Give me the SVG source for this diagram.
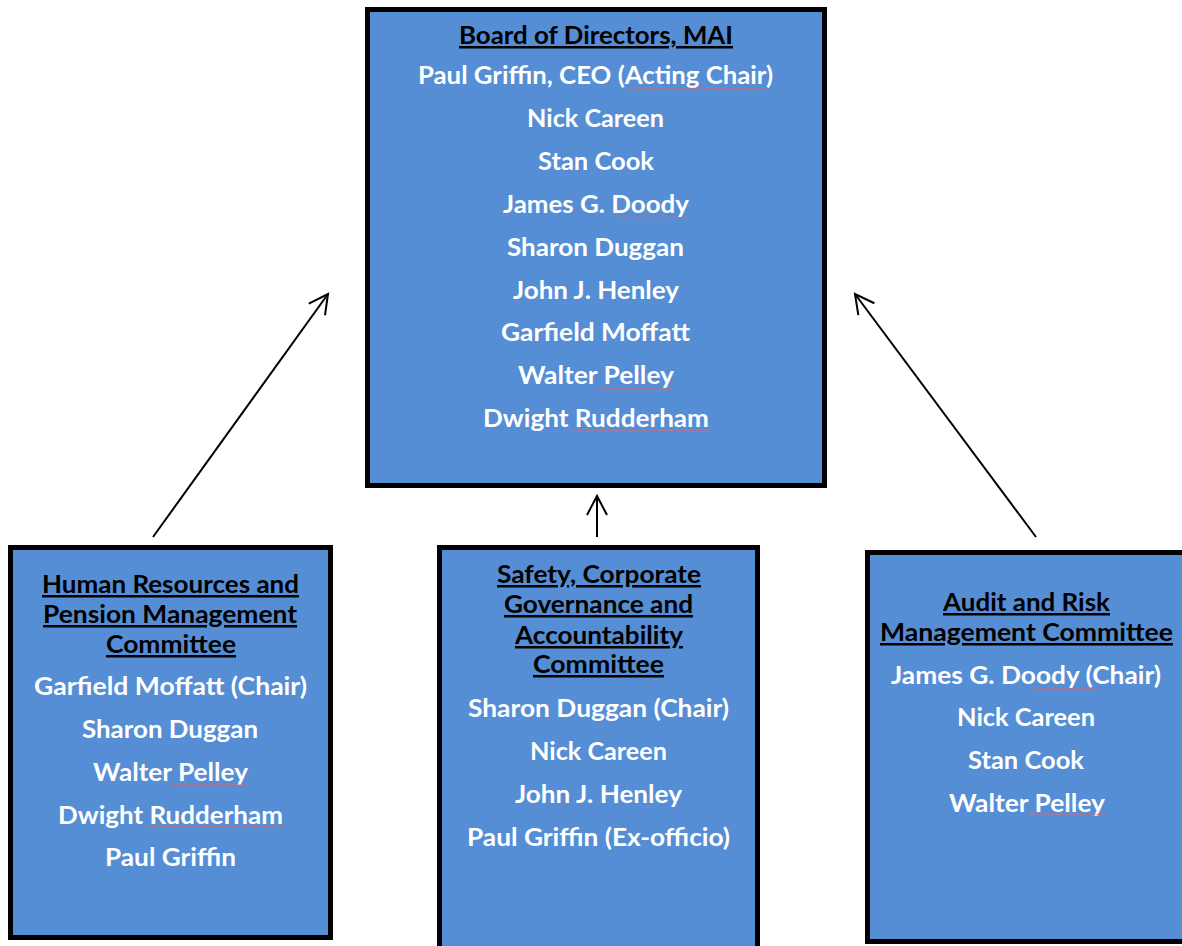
<svg xmlns="http://www.w3.org/2000/svg" width="1182" height="946" viewBox="0 0 1182 946">
<style>
.box{fill:#558ED5;stroke:#000;stroke-width:5}
.t{font-family:Lato,"Open Sans","Liberation Sans",sans-serif;font-weight:bold;font-size:25px;fill:#000;text-decoration:underline}
.n{font-family:Lato,"Open Sans","Liberation Sans",sans-serif;font-weight:bold;font-size:25px;fill:#fff}
.c{stroke:#000;stroke-width:2;fill:none}
.sq{fill:url(#sq)}
</style>
<defs>
<marker id="ah" markerUnits="userSpaceOnUse" markerWidth="26" markerHeight="26" viewBox="0 0 26 26" refX="23" refY="13" orient="auto">
<path d="M4,3 L23,13 L4,23" fill="none" stroke="#000" stroke-width="2"/>
</marker>
<pattern id="sq" width="4" height="3" patternUnits="userSpaceOnUse">
<path d="M0,2.2 L2,0.8 L4,2.2" stroke="#e06666" fill="none" stroke-width="0.8"/>
</pattern>
</defs>

<g id="board">
<rect class="box" x="367.5" y="9.5" width="457" height="476"/>
<text class="t" x="459" y="44" textLength="274" lengthAdjust="spacingAndGlyphs">Board of Directors, MAI</text>
<text class="n" x="418" y="84" textLength="355" lengthAdjust="spacingAndGlyphs">Paul Griffin, CEO (Acting Chair)</text>
<text class="n" x="527" y="127" textLength="137" lengthAdjust="spacingAndGlyphs">Nick Careen</text>
<text class="n" x="538" y="170" textLength="116" lengthAdjust="spacingAndGlyphs">Stan Cook</text>
<text class="n" x="503" y="213" textLength="186" lengthAdjust="spacingAndGlyphs">James G. Doody</text>
<text class="n" x="507" y="256" textLength="177" lengthAdjust="spacingAndGlyphs">Sharon Duggan</text>
<text class="n" x="513" y="299" textLength="166" lengthAdjust="spacingAndGlyphs">John J. Henley</text>
<text class="n" x="501" y="341" textLength="189" lengthAdjust="spacingAndGlyphs">Garfield Moffatt</text>
<text class="n" x="518" y="384" textLength="156" lengthAdjust="spacingAndGlyphs">Walter Pelley</text>
<text class="n" x="483" y="427" textLength="226" lengthAdjust="spacingAndGlyphs">Dwight Rudderham</text>
<rect class="sq" x="627" y="87" width="138" height="3"/>
<rect class="sq" x="617" y="216" width="72" height="3"/>
<rect class="sq" x="598" y="387" width="76" height="3"/>
<rect class="sq" x="573" y="429" width="136" height="3"/>
</g>

<g id="hr">
<rect class="box" x="10.5" y="547.5" width="320" height="390"/>
<text class="t" x="42" y="593" textLength="257" lengthAdjust="spacingAndGlyphs">Human Resources and</text>
<text class="t" x="43" y="623" textLength="254" lengthAdjust="spacingAndGlyphs">Pension Management</text>
<text class="t" x="106" y="653" textLength="130" lengthAdjust="spacingAndGlyphs">Committee</text>
<text class="n" x="34" y="695" textLength="273" lengthAdjust="spacingAndGlyphs">Garfield Moffatt (Chair)</text>
<text class="n" x="82" y="738" textLength="176" lengthAdjust="spacingAndGlyphs">Sharon Duggan</text>
<text class="n" x="93" y="781" textLength="155" lengthAdjust="spacingAndGlyphs">Walter Pelley</text>
<text class="n" x="58" y="824" textLength="225" lengthAdjust="spacingAndGlyphs">Dwight Rudderham</text>
<text class="n" x="105" y="866" textLength="131" lengthAdjust="spacingAndGlyphs">Paul Griffin</text>
<rect class="sq" x="172" y="783" width="76" height="3"/>
<rect class="sq" x="148" y="825" width="135" height="3"/>
</g>

<g id="safety">
<rect class="box" x="439.5" y="547.5" width="318" height="410"/>
<text class="t" x="497" y="583" textLength="204" lengthAdjust="spacingAndGlyphs">Safety, Corporate</text>
<text class="t" x="504" y="613" textLength="189" lengthAdjust="spacingAndGlyphs">Governance and</text>
<text class="t" x="515" y="644" textLength="168" lengthAdjust="spacingAndGlyphs">Accountability</text>
<text class="t" x="533" y="673" textLength="131" lengthAdjust="spacingAndGlyphs">Committee</text>
<text class="n" x="468" y="717" textLength="261" lengthAdjust="spacingAndGlyphs">Sharon Duggan (Chair)</text>
<text class="n" x="530" y="760" textLength="137" lengthAdjust="spacingAndGlyphs">Nick Careen</text>
<text class="n" x="515" y="803" textLength="167" lengthAdjust="spacingAndGlyphs">John J. Henley</text>
<text class="n" x="467" y="846" textLength="263" lengthAdjust="spacingAndGlyphs">Paul Griffin (Ex-officio)</text>
</g>

<g id="audit">
<rect class="box" x="867.5" y="552.5" width="330" height="389"/>
<text class="t" x="943" y="611" textLength="167" lengthAdjust="spacingAndGlyphs">Audit and Risk</text>
<text class="t" x="880" y="641" textLength="293" lengthAdjust="spacingAndGlyphs">Management Committee</text>
<text class="n" x="891" y="684" textLength="270" lengthAdjust="spacingAndGlyphs">James G. Doody (Chair)</text>
<text class="n" x="957" y="726" textLength="138" lengthAdjust="spacingAndGlyphs">Nick Careen</text>
<text class="n" x="968" y="769" textLength="116" lengthAdjust="spacingAndGlyphs">Stan Cook</text>
<text class="n" x="949" y="812" textLength="156" lengthAdjust="spacingAndGlyphs">Walter Pelley</text>
<rect class="sq" x="1034" y="687" width="63" height="3"/>
<rect class="sq" x="1030" y="813" width="75" height="3"/>
</g>

<g id="connectors">
<line class="c" x1="153" y1="537" x2="328" y2="294" marker-end="url(#ah)"/>
<line class="c" x1="597" y1="537" x2="597" y2="496" marker-end="url(#ah)"/>
<line class="c" x1="1036" y1="537" x2="855" y2="294" marker-end="url(#ah)"/>
</g>
</svg>
